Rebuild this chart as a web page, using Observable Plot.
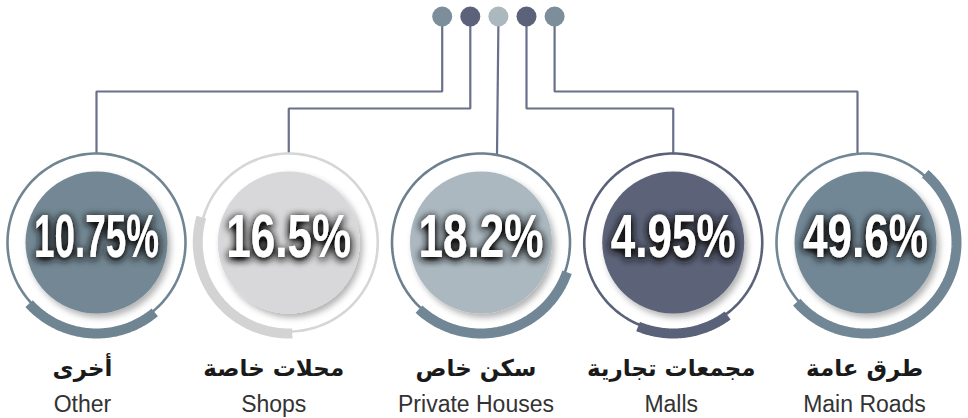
<!DOCTYPE html>
<html>
<head>
<meta charset="utf-8">
<script src="https://cdn.jsdelivr.net/npm/d3@7"></script>
<script src="https://cdn.jsdelivr.net/npm/@observablehq/plot@0.6"></script>
<style>
  html, body { margin: 0; padding: 0; background: #ffffff; }
  svg { display: block; }
</style>
</head>
<body>
<script>
// ---- data ----
const categoriesEn = ["Other", "Shops", "Private Houses", "Malls", "Main Roads"];
const categoriesAr = ["أخرى", "محلات خاصة", "سكن خاص", "مجمعات تجارية", "طرق عامة"];
const shares = [10.75, 16.5, 18.2, 4.95, 49.6];
const shareLabels = ["10.75%", "16.5%", "18.2%", "4.95%", "49.6%"];

// ---- styling / layout ----
const diskColors = ["#738894", "#d8d7d9", "#abb8bf", "#5b6379", "#718795"];
const ringColors = ["#6f8592", "#d6d6d6", "#6c808f", "#5a6279", "#718795"];
const arcColors  = ["#6f8592", "#d3d3d3", "#728795", "#5a6279", "#718795"];
const topDotColors = ["#7b8e9a", "#5b6279", "#abb9bf", "#5b6279", "#7b8e9a"];
const arcMidDeg = [-4, -52, 14, 7, 45];           // where each gauge arc is centred
const labelShiftPx = [-14, -15, -5, -2, -1];
const connectorTargetShiftPx = [0, 0, 16, 0, -8];
const connectorLevelPx = [91, 108, null, 108, 91];

const W = 968, H = 418;
const SPAN = 192.25, CX0 = 96, CY = 242;        // px per gauge step, first centre, centre row
const X = px => (px - CX0) / SPAN;
const Y = py => (CY - py) / SPAN;
const RING = 89 / SPAN, ARC = 91 / SPAN;

const sweep = d3.scaleSqrt().domain([0, d3.max(shares)]).range([0, 188]);

const gauges = shares.map((v, i) => ({i, v, label: shareLabels[i], en: categoriesEn[i], ar: categoriesAr[i],
  disk: diskColors[i], ring: ringColors[i], arc: arcColors[i]}));

const ringPts = [];
const arcPts = [];
gauges.forEach(g => {
  for (let a = 0; a <= 360; a += 2) {
    const r = a * Math.PI / 180;
    ringPts.push({i: g.i, x: g.i + RING * Math.sin(r), y: -RING * Math.cos(r), c: g.ring});
  }
  const s = sweep(g.v), a0 = arcMidDeg[g.i] - s / 2, a1 = arcMidDeg[g.i] + s / 2;
  for (let k = 0; k <= 120; k++) {
    const a = (a0 + (a1 - a0) * k / 120) * Math.PI / 180;
    arcPts.push({i: g.i, x: g.i + ARC * Math.sin(a), y: -ARC * Math.cos(a), c: g.arc});
  }
});

// connectors from top dots to each gauge
const dotXpx = gauges.map(g => 441.7 + 28.1 * g.i);
const topDots = gauges.map(g => ({x: X(dotXpx[g.i]), y: Y(16), c: topDotColors[g.i]}));
const connPts = [];
gauges.forEach(g => {
  const dx = X(dotXpx[g.i]);
  const tx = g.i + connectorTargetShiftPx[g.i] / SPAN;
  const off = tx - g.i;
  const ty = Math.sqrt(RING * RING - off * off);
  connPts.push({i: g.i, x: dx, y: Y(24)});
  if (connectorLevelPx[g.i] !== null) {
    connPts.push({i: g.i, x: dx, y: Y(connectorLevelPx[g.i])});
    connPts.push({i: g.i, x: tx, y: Y(connectorLevelPx[g.i])});
  }
  connPts.push({i: g.i, x: tx, y: ty});
});

const plot = Plot.plot({
  width: W,
  height: H,
  margin: 0,
  x: {domain: [X(0), X(W)], range: [0, W], axis: null},
  y: {domain: [Y(H), Y(0)], range: [H, 0], axis: null},
  color: {type: "identity"},
  marks: [
    Plot.line(connPts, {x: "x", y: "y", z: "i", stroke: "#69708a", strokeWidth: 2.2, strokeLinejoin: "miter", strokeLinecap: "butt"}),
    Plot.dot(topDots, {x: "x", y: "y", r: 10, fill: "c", stroke: "none"}),
    Plot.line(ringPts, {x: "x", y: "y", z: "i", stroke: "c", strokeWidth: 2.6}),
    Plot.line(arcPts, {x: "x", y: "y", z: "i", stroke: "c", strokeWidth: 10, strokeLinecap: "butt"}),
    Plot.dot(gauges, {x: "i", y: 0, r: 71, fill: "disk", stroke: "none"}),
    Plot.text(gauges, {x: "i", y: 0, dy: -5, text: "label", fill: "white", fontSize: 61, fontWeight: "bold",
      fontFamily: "'Liberation Sans Narrow', 'Liberation Sans', Arial, sans-serif"}),
    Plot.text(gauges, {x: d => d.i + labelShiftPx[d.i] / SPAN, y: Y(368), text: "ar", fill: "#1a1a1a", fontSize: 23,
      fontWeight: "bold", fontFamily: "'DejaVu Sans', sans-serif"}),
    Plot.text(gauges, {x: d => d.i + labelShiftPx[d.i] / SPAN, y: Y(404.5), text: "en", fill: "#333333", fontSize: 23,
      fontFamily: "'Liberation Sans', Arial, sans-serif"})
  ]
});

// effects: soft shadows, condensed percentage text
const svg = d3.select(plot);
const defs = svg.insert("defs", ":first-child");
const ts = defs.append("filter").attr("id", "textShadow").attr("x", "-30%").attr("y", "-50%").attr("width", "160%").attr("height", "200%");
ts.append("feGaussianBlur").attr("in", "SourceAlpha").attr("stdDeviation", 4.5).attr("result", "blur");
ts.append("feOffset").attr("in", "blur").attr("dx", 0).attr("dy", 2).attr("result", "off");
const ct = ts.append("feComponentTransfer").attr("in", "off").attr("result", "boost");
ct.append("feFuncA").attr("type", "linear").attr("slope", 1.8);
ts.append("feFlood").attr("flood-color", "#141414").attr("result", "col");
ts.append("feComposite").attr("in", "col").attr("in2", "boost").attr("operator", "in").attr("result", "shadow");
const mg = ts.append("feMerge");
mg.append("feMergeNode").attr("in", "shadow");
mg.append("feMergeNode").attr("in", "SourceGraphic");
const ds = defs.append("filter").attr("id", "diskShadow").attr("x", "-20%").attr("y", "-20%").attr("width", "150%").attr("height", "150%");
ds.append("feDropShadow").attr("dx", 3).attr("dy", 4).attr("stdDeviation", 3).attr("flood-color", "#000").attr("flood-opacity", 0.3);

const markGroups = Array.from(plot.children).filter(n => n.tagName.toLowerCase() === "g");
const diskG = markGroups[4], pctG = markGroups[5];
if (diskG) diskG.setAttribute("filter", "url(#diskShadow)");
if (pctG) {
  pctG.setAttribute("filter", "url(#textShadow)");
  pctG.querySelectorAll("text").forEach(t => {
    t.setAttribute("textLength", 125);
    t.setAttribute("lengthAdjust", "spacingAndGlyphs");
  });
}

document.body.appendChild(plot);
</script>
</body>
</html>
